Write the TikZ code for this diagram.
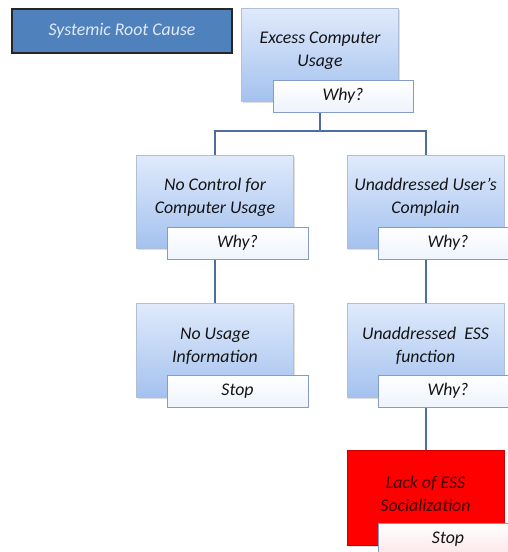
\documentclass[tikz,border=0pt]{standalone}
\usepackage{fontspec}
\setmainfont{Carlito}
\usetikzlibrary{shadows}
\definecolor{boxtop}{RGB}{224,234,251}
\definecolor{boxbot}{RGB}{164,194,239}
\definecolor{boxedge}{RGB}{176,190,214}
\definecolor{linecol}{RGB}{79,110,160}
\definecolor{whyedge}{RGB}{132,156,200}
\definecolor{whybot}{RGB}{238,243,251}
\definecolor{sysfill}{RGB}{79,129,189}
\definecolor{systext}{RGB}{226,233,245}
\definecolor{txt}{RGB}{20,20,20}
\definecolor{redtxt}{RGB}{60,0,0}
\definecolor{pinkstop}{RGB}{252,230,232}
\begin{document}
\begin{tikzpicture}[x=1pt,y=-1pt,
  bigfont/.style={font=\fontsize{17.8}{23}\selectfont\itshape},
  mainbox/.style={minimum width=157pt, minimum height=93pt, inner sep=0pt,
    top color=boxtop, bottom color=boxbot, draw=boxedge, line width=0.6pt,
    drop shadow={shadow xshift=1pt, shadow yshift=-1.5pt, opacity=0.25}},
  redbox/.style={minimum width=157pt, minimum height=95pt, inner sep=0pt,
    fill=red, draw=red!80!black, line width=0.6pt,
    drop shadow={shadow xshift=1pt, shadow yshift=-1.5pt, opacity=0.25}},
  maintext/.style={label={[bigfont, text=txt, align=center, yshift=4pt]center:#1}},
  redtext/.style={label={[bigfont, text=redtxt, align=center, yshift=4pt]center:#1}},
  whybox/.style={minimum width=141pt, minimum height=32pt, inner sep=0pt,
    top color=white, bottom color=whybot, draw=whyedge, line width=0.7pt,
    bigfont, text=txt},
  connector/.style={draw=linecol, line width=2pt}
]
\useasboundingbox (0,0) rectangle (508,552);
\clip (0,0) rectangle (508,552);

% legend box
\node[minimum width=220pt, minimum height=44pt, inner sep=0pt, fill=sysfill,
  draw=black!85, line width=1.6pt, bigfont, text=systext] (src) at (122,31) {Systemic Root Cause};

% main boxes
\node[mainbox, maintext={Excess Computer\\Usage}] (ecu) at (320,54.5) {};
\node[mainbox, maintext={No Control for\\Computer Usage}] (ncu) at (215,201.5) {};
\node[mainbox, maintext={Unaddressed User's\\Complain}] (uuc) at (425.5,201.5) {};
\node[mainbox, minimum height=94pt, maintext={No Usage\\Information}] (nui) at (215,350) {};
\node[mainbox, minimum height=94pt, maintext={Unaddressed\ \ ESS\\function}] (uef) at (425.5,350) {};
\node[redbox, redtext={Lack of ESS\\Socialization}] (less) at (425.5,497.5) {};

% connectors
\coordinate (split) at (320,131);
\draw[connector] (ecu.south) -- (split);
\draw[connector] (split) -| (ncu.north);
\draw[connector] (split) -| (uuc.north);
\draw[connector] (ncu.south) -- (nui.north);
\draw[connector] (uuc.south) -- (uef.north);
\draw[connector] (uef.south) -- (less.north);

% why / stop boxes
\node[whybox, minimum width=140pt] (w1) at (343,96) {Why?};
\node[whybox] (w2l) at (237.5,243) {Why?};
\node[whybox, minimum width=140pt] (w2r) at (448,243) {Why?};
\node[whybox] (s3l) at (237.5,391) {Stop};
\node[whybox, minimum width=140pt] (w3r) at (448,391) {Why?};
\node[whybox, minimum width=140pt, top color=white, bottom color=pinkstop] (s4) at (448,539) {Stop};
\end{tikzpicture}
\end{document}
